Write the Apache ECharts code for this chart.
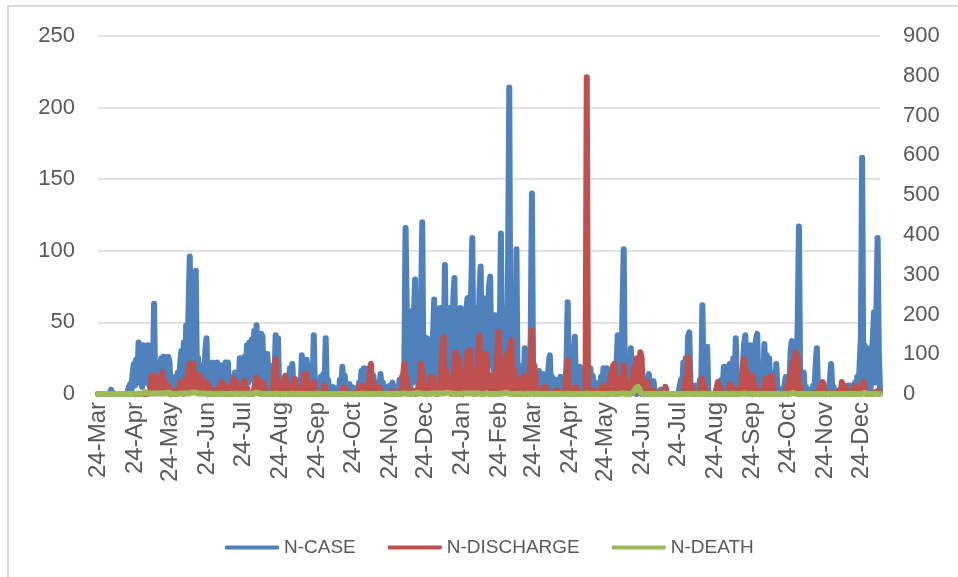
<!DOCTYPE html>
<html>
<head>
<meta charset="utf-8">
<script src="https://cdn.jsdelivr.net/npm/echarts@6/dist/echarts.min.js"></script>
<style>
html,body{margin:0;padding:0;background:#fff;}
#chart{width:958px;height:577px;}
</style>
</head>
<body>
<div id="chart"></div>
<script>
// Daily series starting 24-Mar-2020
const startDate = '2020-03-24';
const monthNames = ['Jan','Feb','Mar','Apr','May','Jun','Jul','Aug','Sep','Oct','Nov','Dec'];
const seriesNames = ['N-CASE','N-DISCHARGE','N-DEATH'];
const leftTicks = [0,50,100,150,200,250];
const rightTicks = [0,100,200,300,400,500,600,700,800,900];

const caseValues = [
0,0,0,0,0,0,0,0,0,0,
1,3,1,0,0,0,0,0,0,0,
0,0,0,0,0,2,5,7,2,14,
21,6,24,8,36,10,33,5,34,12,
33,8,34,6,15,22,4,63,5,14,
20,3,18,25,6,26,4,24,8,26,
22,3,10,2,8,12,1,15,4,22,
30,6,36,10,48,12,62,96,20,5,
30,8,86,12,25,4,20,6,20,3,
30,39,5,12,3,18,22,4,20,3,
22,5,14,2,20,12,1,22,5,22,
3,6,1,12,4,15,5,14,6,25,
8,25,10,26,12,34,8,36,14,38,
10,44,12,48,15,42,10,42,40,3,
12,3,28,29,2,6,1,20,5,41,
8,39,3,7,1,8,0,10,2,12,
4,18,5,21,3,8,0,4,1,10,
3,27,6,20,4,24,3,12,2,20,
5,41,2,8,1,5,2,12,3,14,
4,39,2,10,1,4,0,5,1,4,
0,3,1,10,2,19,3,13,1,5,
0,7,1,5,0,4,1,2,0,8,
2,16,3,18,2,17,4,18,1,6,
2,13,1,8,0,6,2,14,3,8,
0,2,0,5,1,6,2,8,1,4,
0,5,1,10,2,12,1,20,116,60,
10,58,5,40,8,55,80,12,20,6,
35,60,120,10,40,8,39,2,20,29,
5,40,66,8,18,40,10,60,15,60,
20,90,15,55,10,60,12,30,65,81,
15,55,10,50,60,12,35,5,50,60,
67,15,45,70,109,20,60,10,60,15,
70,89,20,67,15,60,10,55,75,82,
20,55,10,55,8,30,3,40,112,10,
20,5,60,10,90,214,15,43,8,50,
10,101,5,20,3,12,18,4,32,2,
8,1,10,40,140,10,15,2,6,1,
16,2,8,1,14,2,5,1,20,27,
4,12,13,2,10,1,6,2,12,1,
6,1,8,20,64,5,12,2,15,25,
40,3,10,2,19,5,18,3,18,4,
18,3,12,18,2,13,2,8,1,0,
3,1,12,2,18,3,14,18,2,8,
1,10,2,20,3,20,41,5,20,2,
60,101,5,15,2,12,3,32,5,8,
1,4,0,2,1,3,0,4,0,4,
1,10,14,2,6,1,9,2,3,0,
1,0,3,0,3,1,5,0,1,0,
1,0,1,0,1,0,0,1,0,10,
2,22,5,25,6,40,43,8,2,5,
1,6,0,4,1,10,3,62,6,32,
5,33,2,3,0,1,0,1,0,4,
1,8,2,10,3,19,4,15,19,3,
21,4,16,25,5,39,3,10,2,8,
1,20,35,41,5,12,3,34,6,34,
5,25,38,42,4,10,1,20,5,35,
4,27,3,25,2,15,1,12,3,21,
1,4,0,2,0,2,1,12,2,12,
3,30,37,5,8,1,20,50,117,10,
15,2,15,1,5,0,3,0,3,1,
6,1,20,32,3,4,0,1,0,1,
0,3,0,4,10,21,3,5,0,1,
0,1,0,1,0,1,0,1,0,6,
1,6,2,4,1,8,2,12,3,22,
40,165,10,34,5,32,4,12,2,20,
40,57,8,60,109,30,3
];

const dischargeValues = [
0,0,0,0,0,0,0,0,0,0,
0,0,0,0,0,0,0,0,0,0,
0,0,0,0,0,0,0,4,0,0,
0,0,0,0,0,0,0,0,0,0,
0,0,0,0,10,46,2,46,5,42,
3,25,21,2,55,5,34,30,2,20,
1,8,0,8,1,4,0,10,2,30,
3,10,0,10,40,5,60,76,10,60,
76,8,50,46,5,40,46,3,17,2,
20,30,2,21,1,8,0,8,1,4,
0,17,2,20,30,3,15,21,2,15,
1,6,0,25,38,3,30,1,4,0,
2,8,25,34,2,15,0,2,0,2,
0,12,30,42,3,30,2,30,1,25,
2,5,0,2,0,5,1,20,60,88,
10,30,1,4,0,10,30,46,3,20,
1,3,0,8,30,38,2,15,0,2,
0,8,20,50,3,50,2,5,0,4,
1,30,30,2,5,0,2,0,2,0,
21,21,2,5,0,1,0,0,1,0,
0,1,0,2,0,10,17,2,12,0,
2,0,1,0,0,2,0,2,0,15,
21,2,21,1,4,0,5,20,50,76,
5,30,2,10,0,5,17,21,1,3,
0,1,0,4,0,2,0,8,11,1,
4,0,3,0,10,2,50,76,5,40,
1,4,0,6,1,8,0,5,1,25,
5,76,60,2,5,0,8,20,3,42,
5,42,3,15,0,3,1,30,60,120,
143,10,60,5,40,2,5,1,30,60,
105,10,93,60,2,8,0,10,40,80,
105,10,110,114,5,15,0,10,40,100,
147,10,101,90,5,101,95,3,30,4,
46,5,20,1,40,100,156,10,40,2,
40,5,90,101,8,100,120,135,10,63,
5,40,2,8,0,10,30,46,3,20,
0,3,20,80,160,10,72,70,2,5,
0,1,0,10,17,1,17,0,2,0,
0,1,0,2,0,10,15,1,3,0,
2,0,10,40,84,5,10,0,2,0,
10,17,2,8,0,1,0,2,0,8,
796,3,5,0,3,0,10,0,1,0,
2,0,15,21,1,10,0,10,20,2,
50,3,70,76,80,5,20,1,20,40,
5,72,50,1,4,0,10,30,3,50,
70,5,90,95,8,105,90,4,20,2,
20,30,1,12,0,2,0,8,0,2,
0,0,1,0,5,0,17,1,4,0,
4,0,5,0,0,0,1,0,1,0,
5,0,20,40,3,93,90,5,20,0,
2,0,2,0,3,0,25,38,2,20,
0,4,0,1,0,1,0,3,0,15,
30,1,15,0,2,0,2,0,5,1,
25,30,2,15,0,3,0,6,0,20,
3,70,88,5,60,1,3,10,1,46,
46,2,20,0,2,0,2,0,10,2,
38,3,30,40,2,46,30,1,3,0,
1,0,1,0,2,0,5,1,20,2,
42,5,60,80,8,105,100,90,6,20,
1,5,0,2,0,0,1,0,1,0,
1,0,1,0,5,1,20,2,30,25,
1,3,0,0,1,0,1,0,1,0,
2,0,10,1,30,34,2,20,0,1,
0,2,0,8,1,21,20,1,4,0,
15,2,31,28,1,3,0,0,1,0,
1,0,4,0,8,0,3
];

const deathValues = [
0,0,0,0,0,0,0,0,0,0,
0,0,0,0,0,0,0,0,0,0,
0,0,0,0,0,0,0,1,0,0,
0,1,0,0,1,0,0,1,2,3,
5,3,1,0,1,0,1,2,1,0,
1,0,1,0,2,1,1,2,3,5,
3,1,0,1,0,1,0,0,1,0,
1,0,1,2,1,0,1,2,3,2,
4,5,4,2,1,0,1,0,1,0,
1,1,0,2,1,0,0,1,0,0,
0,1,0,0,1,0,0,1,0,0,
0,0,1,0,0,0,1,0,0,1,
0,0,1,0,0,2,1,0,0,1,
1,2,3,4,3,1,0,0,1,0,
0,1,0,0,0,1,0,1,0,0,
1,0,0,0,0,1,0,0,0,0,
0,0,1,0,0,0,0,1,0,0,
0,0,0,1,0,0,0,0,0,1,
0,0,0,0,1,0,0,0,0,0,
0,1,0,0,0,0,0,0,0,0,
0,0,0,0,0,0,0,1,0,0,
0,0,0,0,0,0,0,0,0,0,
0,0,1,0,0,0,0,0,0,1,
0,0,0,0,0,0,1,0,0,0,
0,0,0,0,0,0,0,0,0,0,
0,0,0,0,0,0,1,0,1,0,
0,1,0,0,1,0,1,2,3,2,
1,0,1,0,0,1,0,1,0,0,
1,0,1,0,1,2,1,0,1,0,
1,2,3,4,3,2,1,0,1,1,
0,1,0,1,0,1,1,0,1,0,
1,0,1,2,1,0,1,0,1,0,
1,1,0,1,0,1,2,1,0,1,
0,1,0,1,0,1,0,1,1,0,
1,2,3,3,2,1,0,1,0,1,
0,1,0,0,1,0,0,1,0,0,
1,0,0,1,1,0,0,0,1,0,
0,0,0,0,0,0,0,0,0,0,
0,0,0,0,0,1,0,0,0,0,
0,0,0,0,1,0,0,0,0,0,
0,0,0,0,0,0,0,0,0,0,
1,0,0,0,0,0,0,0,0,0,
0,0,0,0,0,0,0,0,0,0,
0,0,1,0,0,0,0,0,1,0,
1,2,1,0,0,0,0,1,1,3,
8,14,19,18,12,4,1,0,0,0,
0,0,1,0,0,0,0,0,0,0,
0,0,0,0,0,1,0,0,0,0,
0,0,0,0,0,0,0,0,0,0,
0,0,0,0,1,1,0,0,0,0,
0,0,0,0,0,0,0,1,0,0,
0,0,0,0,0,0,0,0,0,0,
0,0,0,0,0,0,0,0,0,0,
0,0,0,1,0,0,0,0,0,0,
0,1,2,1,0,0,0,0,1,0,
0,0,0,0,0,0,0,0,0,0,
0,0,0,0,1,0,0,0,0,0,
0,0,0,0,0,0,0,0,0,0,
0,1,2,3,2,1,0,0,1,0,
0,0,0,0,0,0,0,0,0,0,
0,0,0,0,0,0,0,0,0,0,
0,0,0,0,0,0,0,0,0,0,
0,0,0,0,0,0,0,0,0,0,
0,0,0,0,0,0,0,0,0,0,
0,1,2,3,1,0,0,0,0,0,
0,0,0,1,0,0,0
];

// build daily category dates
const dates = [];
(function(){
  const p = startDate.split('-').map(Number);
  const t0 = Date.UTC(p[0], p[1]-1, p[2]);
  for (let i = 0; i < caseValues.length; i++) {
    const d = new Date(t0 + i*86400000);
    dates.push(d.getUTCFullYear() + '-' + String(d.getUTCMonth()+1).padStart(2,'0') + '-' + String(d.getUTCDate()).padStart(2,'0'));
  }
})();

function isTickDay(idx, val) { return val.slice(8,10) === '24'; }
function fmtDate(val) {
  const m = parseInt(val.slice(5,7),10);
  return parseInt(val.slice(8,10),10) + '-' + monthNames[m-1];
}

const textColor = '#595959';
const gridColor = '#d9d9d9';
const fontFamily = "'Liberation Sans', Arial, sans-serif";
const lineW = 6;

const chart = echarts.init(document.getElementById('chart'), null, {renderer:'canvas'});
chart.setOption({
  animation: false,
  backgroundColor: '#ffffff',
  graphic: [{
    type: 'rect', silent: true, z: -10,
    shape: {x: 8, y: 6, width: 1200, height: 1200},
    style: {fill: 'none', stroke: gridColor, lineWidth: 2}
  }],
  grid: {left: 98, right: 78, top: 36, bottom: 183, containLabel: false},
  legend: {
    data: seriesNames,
    left: 220, top: 533,
    icon: 'roundRect',
    itemWidth: 54, itemHeight: 4,
    itemGap: 32,
    textStyle: {color: textColor, fontSize: 19, fontFamily: fontFamily}
  },
  xAxis: {
    type: 'category',
    data: dates,
    boundaryGap: false,
    axisLine: {show: true, lineStyle: {color: gridColor, width: 1}},
    axisTick: {show: true, interval: isTickDay, length: 5, lineStyle: {color: gridColor}},
    axisLabel: {interval: isTickDay, rotate: 90, formatter: fmtDate, color: textColor, fontSize: 24, fontFamily: fontFamily, margin: 8},
    splitLine: {show: false}
  },
  yAxis: [{
    type: 'value', min: leftTicks[0], max: leftTicks[leftTicks.length-1], interval: 50,
    axisLine: {show: false}, axisTick: {show: false},
    axisLabel: {color: textColor, fontSize: 22, fontFamily: fontFamily, margin: 23},
    splitLine: {show: true, lineStyle: {color: gridColor, width: 1.5}}
  }, {
    type: 'value', min: rightTicks[0], max: rightTicks[rightTicks.length-1], interval: 100,
    axisLine: {show: false}, axisTick: {show: false},
    axisLabel: {color: textColor, fontSize: 22, fontFamily: fontFamily, margin: 23},
    splitLine: {show: false}
  }],
  series: [{
    name: seriesNames[0], type: 'line', yAxisIndex: 0, data: caseValues,
    showSymbol: false, symbol: 'none',
    itemStyle: {color: '#4f81bd'},
    lineStyle: {color: '#4f81bd', width: lineW, join: 'round', cap: 'round'}
  }, {
    name: seriesNames[1], type: 'line', yAxisIndex: 1, data: dischargeValues,
    showSymbol: false, symbol: 'none',
    itemStyle: {color: '#c0504d'},
    lineStyle: {color: '#c0504d', width: lineW, join: 'round', cap: 'round'}
  }, {
    name: seriesNames[2], type: 'line', yAxisIndex: 1, data: deathValues,
    showSymbol: false, symbol: 'none',
    itemStyle: {color: '#9bbb59'},
    lineStyle: {color: '#9bbb59', width: lineW, join: 'round', cap: 'round'}
  }]
});
</script>
</body>
</html>
